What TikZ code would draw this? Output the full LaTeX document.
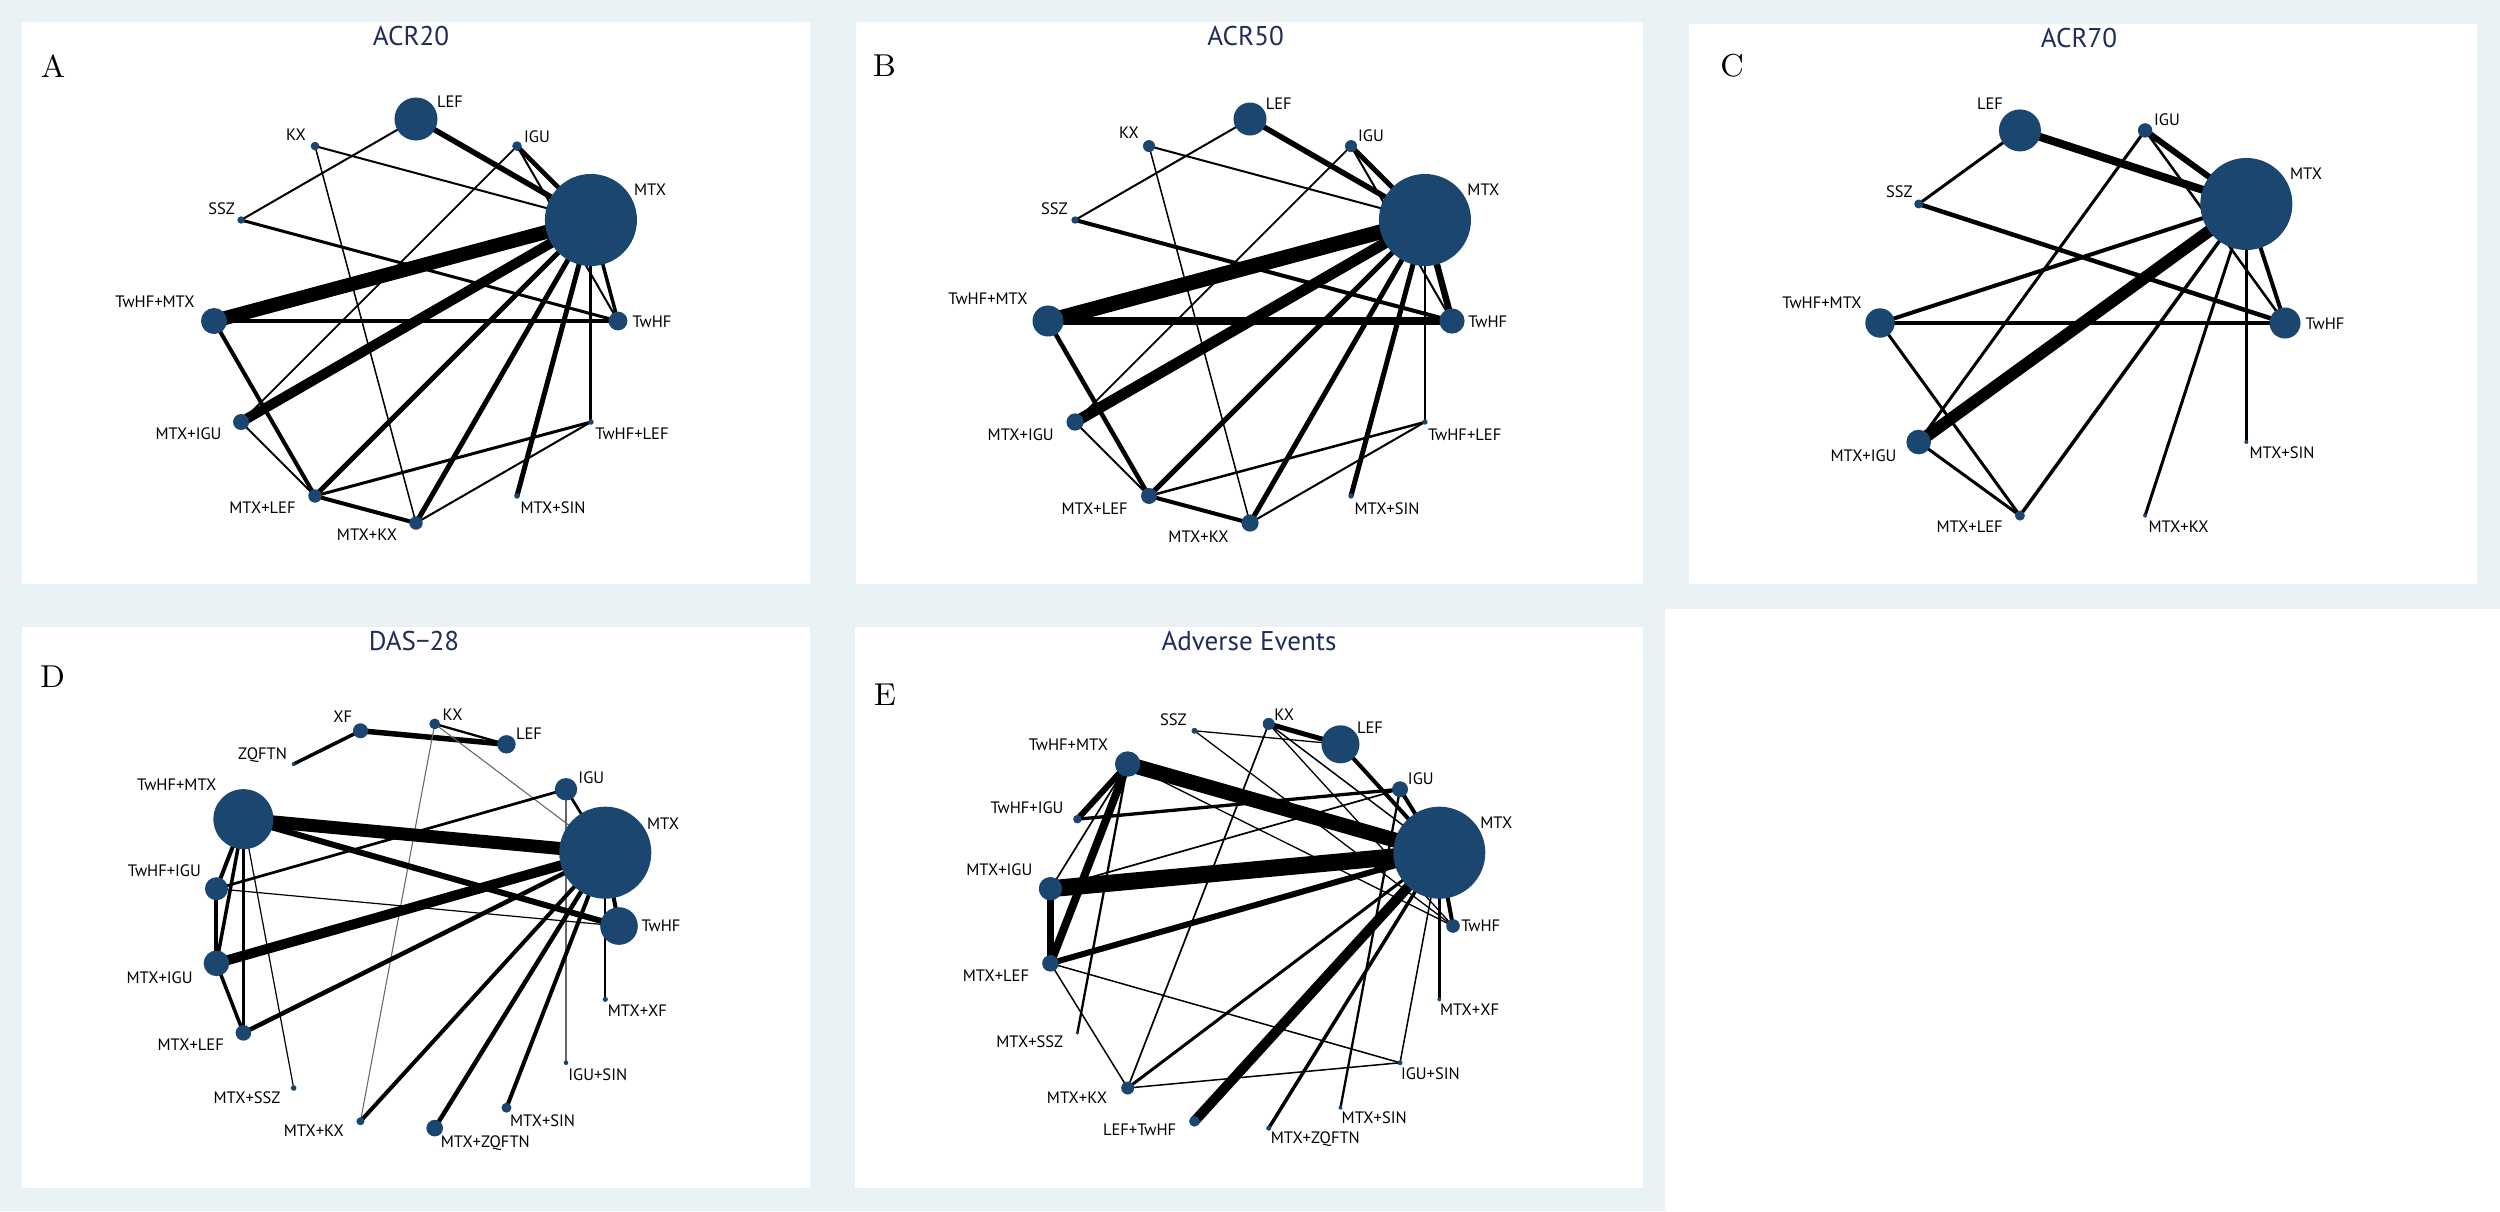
\documentclass[tikz,border=0pt]{standalone}
\usepackage{fontspec}
\newfontfamily\labfont{PT Sans}
\definecolor{bg}{RGB}{232,241,243}
\definecolor{nodeblue}{RGB}{27,70,112}
\definecolor{navy}{RGB}{30,45,90}
\tikzset{
  lab/.style={font=\labfont\fontsize{4.7}{5}\selectfont, inner sep=0pt},
  ttl/.style={font=\labfont\fontsize{7.7}{9}\selectfont, text=navy, inner sep=0pt},
  plet/.style={font=\fontsize{9}{10}\selectfont, inner sep=0pt},
  gedge/.style={line width=0.3pt, black!60},
}
\newcommand\pos[5]{\path (#2,#3) ++(-#4:#5) coordinate (#1);}
\newcommand\ed[3]{\draw[line width=#1*0.2845pt] (#2) -- (#3);}
\newcommand\ged[2]{\draw[gedge] (#1) -- (#2);}
\newcommand\dotn[2]{\fill[nodeblue] (#1) circle[radius=#2*0.2845pt];}
\begin{document}
\begin{tikzpicture}[x=0.01cm,y=-0.01cm]
\useasboundingbox (0,0) rectangle (2500,1211);
% backgrounds
\fill[bg] (0,0) rectangle (2500,609);
\fill[bg] (0,609) rectangle (1665,1211);
\fill[white] (22,22) rectangle (810,584);
\fill[white] (856,22) rectangle (1643,584);
\fill[white] (1689,24) rectangle (2477,584);
\fill[white] (22,627) rectangle (810,1188);
\fill[white] (855,627) rectangle (1643,1188);
% ---------------- positions
% A
\pos{aTwHF}{416}{321}{0}{202}\pos{aMTX}{416}{321}{30}{202}\pos{aIGU}{416}{321}{60}{202}
\pos{aLEF}{416}{321}{90}{202}\pos{aKX}{416}{321}{120}{202}\pos{aSSZ}{416}{321}{150}{202}
\pos{aTM}{416}{321}{180}{202}\pos{aMI}{416}{321}{210}{202}\pos{aML}{416}{321}{240}{202}
\pos{aMK}{416}{321}{270}{202}\pos{aMS}{416}{321}{300}{202}\pos{aTL}{416}{321}{330}{202}
% B
\pos{bTwHF}{1250}{321}{0}{202}\pos{bMTX}{1250}{321}{30}{202}\pos{bIGU}{1250}{321}{60}{202}
\pos{bLEF}{1250}{321}{90}{202}\pos{bKX}{1250}{321}{120}{202}\pos{bSSZ}{1250}{321}{150}{202}
\pos{bTM}{1250}{321}{180}{202}\pos{bMI}{1250}{321}{210}{202}\pos{bML}{1250}{321}{240}{202}
\pos{bMK}{1250}{321}{270}{202}\pos{bMS}{1250}{321}{300}{202}\pos{bTL}{1250}{321}{330}{202}
% C
\pos{cTwHF}{2082.5}{323}{0}{202.5}\pos{cMTX}{2082.5}{323}{36}{202.5}\pos{cIGU}{2082.5}{323}{72}{202.5}
\pos{cLEF}{2082.5}{323}{108}{202.5}\pos{cSSZ}{2082.5}{323}{144}{202.5}\pos{cTM}{2082.5}{323}{180}{202.5}
\pos{cMI}{2082.5}{323}{216}{202.5}\pos{cML}{2082.5}{323}{252}{202.5}\pos{cMK}{2082.5}{323}{288}{202.5}
\pos{cMS}{2082.5}{323}{324}{202.5}
% D
\pos{dTwHF}{416}{926}{0}{203}\pos{dMTX}{416}{926}{21.18}{203}\pos{dIGU}{416}{926}{42.35}{203}
\pos{dLEF}{416}{926}{63.53}{203}\pos{dKX}{416}{926}{84.71}{203}\pos{dXF}{416}{926}{105.88}{203}
\pos{dZQ}{416}{926}{127.06}{203}\pos{dTM}{416}{926}{148.24}{203}\pos{dTI}{416}{926}{169.41}{203}
\pos{dMI}{416}{926}{190.59}{203}\pos{dML}{416}{926}{211.76}{203}\pos{dMSS}{416}{926}{232.94}{203}
\pos{dMK}{416}{926}{254.12}{203}\pos{dMZ}{416}{926}{275.29}{203}\pos{dMS}{416}{926}{296.47}{203}
\pos{dIS}{416}{926}{317.65}{203}\pos{dMX}{416}{926}{338.82}{203}
% E
\pos{eTwHF}{1250}{926}{0}{203}\pos{eMTX}{1250}{926}{21.18}{203}\pos{eIGU}{1250}{926}{42.35}{203}
\pos{eLEF}{1250}{926}{63.53}{203}\pos{eKX}{1250}{926}{84.71}{203}\pos{eSSZ}{1250}{926}{105.88}{203}
\pos{eTM}{1250}{926}{127.06}{203}\pos{eTI}{1250}{926}{148.24}{203}\pos{eMI}{1250}{926}{169.41}{203}
\pos{eML}{1250}{926}{190.59}{203}\pos{eMSS}{1250}{926}{211.76}{203}\pos{eMK}{1250}{926}{232.94}{203}
\pos{eLT}{1250}{926}{254.12}{203}\pos{eMZ}{1250}{926}{275.29}{203}\pos{eMS}{1250}{926}{296.47}{203}
\pos{eIS}{1250}{926}{317.65}{203}\pos{eMX}{1250}{926}{338.82}{203}
% ---------------- edges A
\ed{5.5}{aLEF}{aMTX}\ed{2}{aLEF}{aSSZ}\ed{2}{aKX}{aMTX}\ed{1.5}{aKX}{aMK}
\ed{4.5}{aIGU}{aMTX}\ed{2}{aIGU}{aTwHF}\ed{1.8}{aIGU}{aMI}\ed{3}{aSSZ}{aTwHF}
\ed{14}{aTM}{aMTX}\ed{4.5}{aTM}{aTwHF}\ed{4}{aTM}{aML}
\ed{10}{aMTX}{aMI}\ed{5}{aMTX}{aML}\ed{5}{aMTX}{aMK}\ed{5}{aMTX}{aMS}
\ed{3.5}{aMTX}{aTwHF}\ed{3}{aMTX}{aTL}\ed{2}{aMI}{aML}\ed{3}{aML}{aTL}
\ed{4}{aML}{aMK}\ed{2}{aMK}{aTL}
% edges B
\ed{5.5}{bLEF}{bMTX}\ed{2}{bLEF}{bSSZ}\ed{2}{bKX}{bMTX}\ed{1.5}{bKX}{bMK}
\ed{5}{bIGU}{bMTX}\ed{2}{bIGU}{bTwHF}\ed{1.8}{bIGU}{bMI}\ed{4}{bSSZ}{bTwHF}
\ed{15}{bTM}{bMTX}\ed{8}{bTM}{bTwHF}\ed{4.5}{bTM}{bML}
\ed{11}{bMTX}{bMI}\ed{5}{bMTX}{bML}\ed{5}{bMTX}{bMK}\ed{5}{bMTX}{bMS}
\ed{6.5}{bMTX}{bTwHF}\ed{2.3}{bMTX}{bTL}\ed{2}{bMI}{bML}\ed{2.5}{bML}{bTL}
\ed{4}{bML}{bMK}\ed{2}{bMK}{bTL}
% edges C
\ed{8}{cLEF}{cMTX}\ed{3}{cLEF}{cSSZ}\ed{6}{cIGU}{cMTX}\ed{2.5}{cIGU}{cTwHF}
\ed{3}{cIGU}{cMI}\ed{4.5}{cSSZ}{cTwHF}\ed{4}{cTM}{cMTX}\ed{4}{cTM}{cTwHF}
\ed{3}{cTM}{cML}\ed{12}{cMTX}{cMI}\ed{3.5}{cMTX}{cML}\ed{3}{cMTX}{cMK}
\ed{2.5}{cMTX}{cMS}\ed{4}{cMTX}{cTwHF}\ed{3}{cMI}{cML}
% edges D
\ed{5.5}{dXF}{dLEF}\ed{3.5}{dXF}{dZQ}\ed{2.3}{dKX}{dLEF}
\ged{dKX}{dMTX}\ged{dKX}{dMK}\ged{dIGU}{dIS}
\ed{2.7}{dIGU}{dMTX}\ed{2.7}{dIGU}{dTI}
\ed{13}{dTM}{dMTX}\ed{6}{dTM}{dTwHF}\ed{4}{dTM}{dTI}\ed{3.5}{dTM}{dMI}
\ed{3}{dTM}{dML}\ed{1.2}{dTM}{dMSS}\ed{4}{dTI}{dMI}\ed{1.2}{dTI}{dTwHF}
\ed{10}{dMTX}{dMI}\ed{4.5}{dMTX}{dML}\ed{4}{dMTX}{dMK}\ed{4.5}{dMTX}{dMZ}
\ed{4}{dMTX}{dMS}\ed{4}{dMTX}{dTwHF}\ed{1.8}{dMTX}{dMX}\ed{3.5}{dMI}{dML}
% edges E
\ed{1.3}{eSSZ}{eLEF}\ed{1.3}{eSSZ}{eTwHF}\ed{5}{eKX}{eLEF}\ed{1.5}{eKX}{eMTX}
\ed{1.3}{eKX}{eTwHF}\ed{1.7}{eKX}{eMK}\ed{4}{eLEF}{eMTX}\ed{4}{eIGU}{eMTX}
\ed{3.3}{eIGU}{eTI}\ed{1.7}{eIGU}{eMI}\ed{2.3}{eIGU}{eMS}
\ed{15}{eTM}{eMTX}\ed{6}{eTM}{eTI}\ed{8}{eTM}{eML}\ed{1.7}{eTM}{eMI}
\ed{2.3}{eTM}{eMSS}\ed{1.3}{eTM}{eTwHF}
\ed{17}{eMI}{eMTX}\ed{6.5}{eMI}{eML}\ed{6}{eML}{eMTX}\ed{1.5}{eML}{eIS}
\ed{1.5}{eML}{eMK}\ed{3}{eMK}{eMTX}\ed{1.5}{eMK}{eIS}\ed{10}{eMTX}{eLT}
\ed{3.5}{eMTX}{eMZ}\ed{4}{eMTX}{eTwHF}\ed{2.7}{eMTX}{eMX}\ed{1.5}{eMTX}{eIS}
% ---------------- dots
\dotn{aLEF}{21.5}\dotn{aKX}{4.3}\dotn{aIGU}{4.8}\dotn{aMTX}{46}\dotn{aSSZ}{3.7}
\dotn{aTM}{13}\dotn{aTwHF}{9.4}\dotn{aMI}{8}\dotn{aTL}{2.8}\dotn{aML}{6.7}
\dotn{aMK}{6.7}\dotn{aMS}{2.8}
\dotn{bLEF}{16.5}\dotn{bKX}{6}\dotn{bIGU}{6}\dotn{bMTX}{46}\dotn{bSSZ}{3.7}
\dotn{bTM}{15.5}\dotn{bTwHF}{12.6}\dotn{bMI}{8.6}\dotn{bTL}{2.7}\dotn{bML}{8}
\dotn{bMK}{8.6}\dotn{bMS}{2.7}
\dotn{cLEF}{21}\dotn{cIGU}{7.2}\dotn{cMTX}{46}\dotn{cSSZ}{4.5}\dotn{cTM}{14.7}
\dotn{cTwHF}{15.5}\dotn{cMI}{12.3}\dotn{cML}{5}\dotn{cMK}{2}\dotn{cMS}{2}
\dotn{dXF}{7.5}\dotn{dKX}{5.4}\dotn{dLEF}{9.2}\dotn{dZQ}{2}\dotn{dIGU}{11.2}
\dotn{dTM}{30}\dotn{dMTX}{46}\dotn{dTI}{11.5}\dotn{dTwHF}{18.8}\dotn{dMI}{12.8}
\dotn{dMX}{2.6}\dotn{dML}{7.8}\dotn{dIS}{2.3}\dotn{dMSS}{2.8}\dotn{dMS}{5}
\dotn{dMK}{4}\dotn{dMZ}{8.3}
\dotn{eSSZ}{3}\dotn{eKX}{6}\dotn{eLEF}{19}\dotn{eTM}{12.7}\dotn{eIGU}{8}
\dotn{eTI}{4.3}\dotn{eMTX}{46}\dotn{eMI}{11.7}\dotn{eTwHF}{6.8}\dotn{eML}{8.3}
\dotn{eMX}{2}\dotn{eMSS}{1.8}\dotn{eIS}{2.5}\dotn{eMK}{6.5}\dotn{eMS}{2}
\dotn{eLT}{5.4}\dotn{eMZ}{2.5}
% ---------------- labels A
\node[lab] (aLEFl) at (450,101.4) {LEF};
\node[lab] (aKXl) at (296,134.7) {KX};
\node[lab] (aIGUl) at (537,136.6) {IGU};
\node[lab] (aMTXl) at (650,190) {MTX};
\node[lab] (aSSZl) at (221.7,209) {SSZ};
\node[lab] (aTMl) at (155,302) {TwHF+MTX};
\node[lab] (aTwHFl) at (652,321.5) {TwHF};
\node[lab] (aMIl) at (188.5,434) {MTX+IGU};
\node[lab] (aTLl) at (632,434) {TwHF+LEF};
\node[lab] (aMLl) at (262.5,508) {MTX+LEF};
\node[lab] (aMKl) at (367,535) {MTX+KX};
\node[lab] (aMSl) at (553,508) {MTX+SIN};
% labels B
\node[lab] (bLEFl) at (1278.8,103.3) {LEF};
\node[lab] (bKXl) at (1128.9,132.8) {KX};
\node[lab] (bIGUl) at (1371,135.9) {IGU};
\node[lab] (bMTXl) at (1483.4,189.4) {MTX};
\node[lab] (bSSZl) at (1054.4,208.6) {SSZ};
\node[lab] (bTMl) at (988,298.5) {TwHF+MTX};
\node[lab] (bTwHFl) at (1487.7,321.5) {TwHF};
\node[lab] (bMIl) at (1020.7,435) {MTX+IGU};
\node[lab] (bTLl) at (1464.7,435) {TwHF+LEF};
\node[lab] (bMLl) at (1094.6,509) {MTX+LEF};
\node[lab] (bMKl) at (1198.5,536.5) {MTX+KX};
\node[lab] (bMSl) at (1387,509) {MTX+SIN};
% labels C
\node[lab] (cLEFl) at (1990,103.6) {LEF};
\node[lab] (cIGUl) at (2167,119.4) {IGU};
\node[lab] (cMTXl) at (2306,174) {MTX};
\node[lab] (cSSZl) at (1899.4,191.8) {SSZ};
\node[lab] (cTMl) at (1822,303) {TwHF+MTX};
\node[lab] (cTwHFl) at (2325,323.4) {TwHF};
\node[lab] (cMIl) at (1863.5,456) {MTX+IGU};
\node[lab] (cMSl) at (2282,453) {MTX+SIN};
\node[lab] (cMLl) at (1969.6,526.7) {MTX+LEF};
\node[lab] (cMKl) at (2178.5,526.7) {MTX+KX};
% labels D
\node[lab] (dXFl) at (342.8,716.9) {XF};
\node[lab] (dKXl) at (452.6,715) {KX};
\node[lab] (dLEFl) at (529,733.3) {LEF};
\node[lab] (dZQl) at (262.5,755) {ZQFTN};
\node[lab] (dIGUl) at (591.3,777.3) {IGU};
\node[lab] (dTMl) at (176.8,784.3) {TwHF+MTX};
\node[lab] (dMTXl) at (663,823.3) {MTX};
\node[lab] (dTIl) at (164.4,870.8) {TwHF+IGU};
\node[lab] (dTwHFl) at (661,926.2) {TwHF};
\node[lab] (dMIl) at (159.6,977.2) {MTX+IGU};
\node[lab] (dMXl) at (637.4,1011) {MTX+XF};
\node[lab] (dMLl) at (190.7,1044.3) {MTX+LEF};
\node[lab] (dISl) at (597.8,1074.3) {IGU+SIN};
\node[lab] (dMSSl) at (247,1097.7) {MTX+SSZ};
\node[lab] (dMSl) at (542.6,1120.3) {MTX+SIN};
\node[lab] (dMKl) at (313.9,1130.8) {MTX+KX};
\node[lab] (dMZl) at (485.3,1143.6) {MTX+ZQFTN};
% labels E
\node[lab] (eSSZl) at (1173.3,720) {SSZ};
\node[lab] (eKXl) at (1284.2,715) {KX};
\node[lab] (eLEFl) at (1370,727.8) {LEF};
\node[lab] (eTMl) at (1068.4,745) {TwHF+MTX};
\node[lab] (eIGUl) at (1420.8,778.5) {IGU};
\node[lab] (eTIl) at (1027,807.3) {TwHF+IGU};
\node[lab] (eMTXl) at (1496.3,823) {MTX};
\node[lab] (eMIl) at (999.3,870) {MTX+IGU};
\node[lab] (eTwHFl) at (1480.8,925.8) {TwHF};
\node[lab] (eMLl) at (996,975.3) {MTX+LEF};
\node[lab] (eMXl) at (1469.5,1010) {MTX+XF};
\node[lab] (eMSSl) at (1029.8,1041.5) {MTX+SSZ};
\node[lab] (eISl) at (1430.4,1074) {IGU+SIN};
\node[lab] (eMKl) at (1077,1098) {MTX+KX};
\node[lab] (eMSl) at (1374.2,1117.5) {MTX+SIN};
\node[lab] (eLTl) at (1139.6,1130) {LEF+TwHF};
\node[lab] (eMZl) at (1315.3,1139) {MTX+ZQFTN};
% ---------------- titles and panel letters
\node[ttl] (tA) at (411,36) {ACR20};
\node[ttl] (tB) at (1245.6,36) {ACR50};
\node[ttl] (tC) at (2079,38.4) {ACR70};
\node[ttl] (tD) at (414,641) {DAS−28};
\node[ttl] (tE) at (1249,641) {Adverse Events};
\node[plet] (pA) at (53,66) {A};
\node[plet] (pB) at (884.5,66) {B};
\node[plet] (pC) at (1732,65.5) {C};
\node[plet] (pD) at (52.5,677) {D};
\node[plet] (pE) at (885,694.5) {E};
\end{tikzpicture}
\end{document}
